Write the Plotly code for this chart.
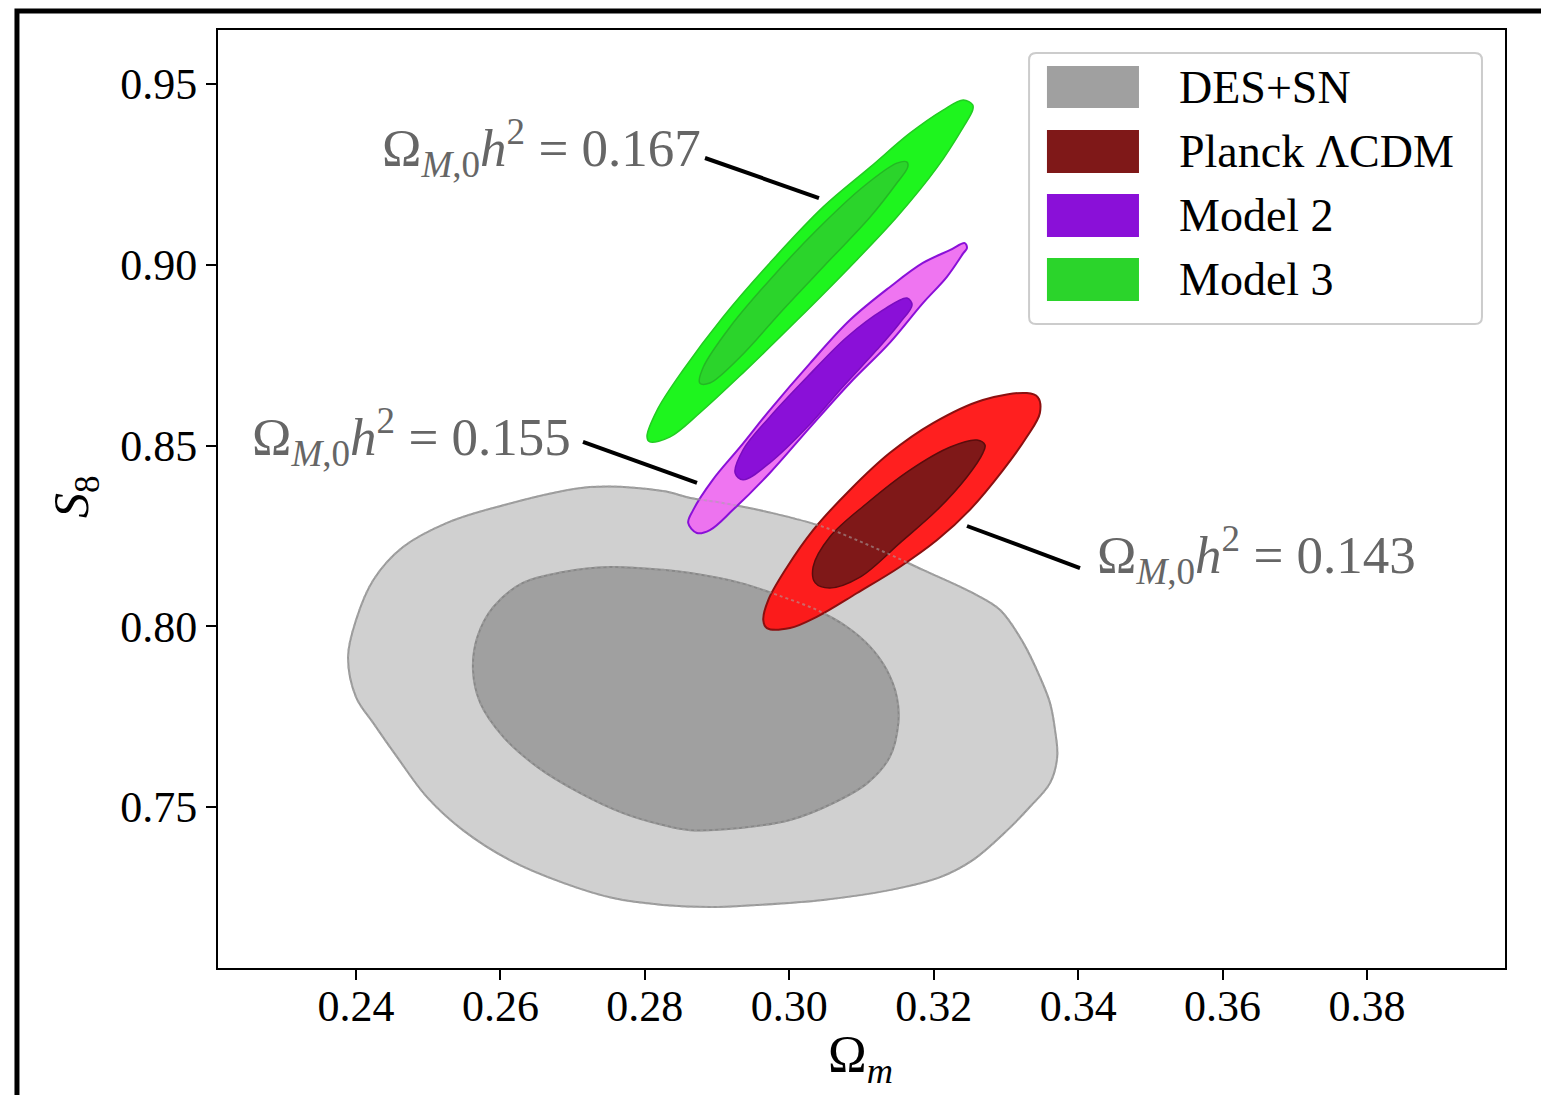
import plotly.graph_objects as go

# ---------------------------------------------------------------
# Confidence contours in the (Omega_m, S_8) plane.
# Each contour is a closed boundary: x = Omega_m, y = S_8.
# ---------------------------------------------------------------

# DES+SN, 2-sigma
des_2s_om = [0.2724, 0.2825, 0.2863, 0.2908, 0.2977, 0.3047, 0.3116, 0.3185, 0.3254, 0.3292,
             0.3324, 0.3347, 0.3361, 0.3368, 0.3371, 0.3361, 0.3333, 0.3302, 0.3254, 0.3209,
             0.3139, 0.3047, 0.2955, 0.2890, 0.2825, 0.2756, 0.2687, 0.2613, 0.2548, 0.2498,
             0.2457, 0.2424, 0.2400, 0.2389, 0.2400, 0.2424, 0.2465, 0.2526, 0.2595]
des_2s_s8 = [0.8385, 0.8374, 0.8355, 0.8341, 0.8313, 0.8275, 0.8219, 0.8156, 0.8092, 0.8045,
             0.7954, 0.7860, 0.7788, 0.7713, 0.7638, 0.7566, 0.7500, 0.7436, 0.7353, 0.7306,
             0.7270, 0.7243, 0.7229, 0.7223, 0.7229, 0.7248, 0.7290, 0.7353, 0.7436, 0.7528,
             0.7638, 0.7732, 0.7804, 0.7915, 0.8017, 0.8128, 0.8219, 0.8286, 0.8330]

# DES+SN, 1-sigma
des_1s_om = [0.2752, 0.2825, 0.2863, 0.2932, 0.2991, 0.3038, 0.3080, 0.3112, 0.3135, 0.3149,
             0.3151, 0.3139, 0.3108, 0.3061, 0.3001, 0.2932, 0.2863, 0.2825, 0.2770, 0.2710,
             0.2651, 0.2604, 0.2572, 0.2562, 0.2568, 0.2590, 0.2631, 0.2687]
des_1s_s8 = [0.8164, 0.8156, 0.8147, 0.8120, 0.8081, 0.8045, 0.7998, 0.7943, 0.7879, 0.7804,
             0.7732, 0.7638, 0.7566, 0.7511, 0.7464, 0.7442, 0.7436, 0.7450, 0.7483, 0.7539,
             0.7611, 0.7694, 0.7788, 0.7879, 0.7970, 0.8053, 0.8120, 0.8150]

# Planck LCDM, 2-sigma
planck_2s_om = [0.3329, 0.3344, 0.3347, 0.3329, 0.3296, 0.3250, 0.3205, 0.3153, 0.3094, 0.3038,
                0.3001, 0.2969, 0.2964, 0.2971, 0.2997, 0.3033, 0.3084, 0.3139, 0.3199, 0.3268]
planck_2s_s8 = [0.8645, 0.8634, 0.8590, 0.8524, 0.8432, 0.8322, 0.8239, 0.8164, 0.8092, 0.8026,
                0.7995, 0.7995, 0.8017, 0.8073, 0.8164, 0.8266, 0.8377, 0.8479, 0.8562, 0.8626]

# Planck LCDM, 1-sigma
planck_1s_om = [0.3260, 0.3271, 0.3268, 0.3246, 0.3205, 0.3153, 0.3098, 0.3056, 0.3036, 0.3033,
                0.3056, 0.3108, 0.3167, 0.3223]
planck_1s_s8 = [0.8515, 0.8501, 0.8479, 0.8413, 0.8322, 0.8230, 0.8136, 0.8106, 0.8120, 0.8164,
                0.8247, 0.8341, 0.8432, 0.8496]

# Model 2, 2-sigma
model2_2s_om = [0.3243, 0.3246, 0.3241, 0.3218, 0.3185, 0.3139, 0.3084, 0.3029, 0.2973, 0.2922,
                0.2890, 0.2872, 0.2860, 0.2867, 0.2894, 0.2932, 0.2973, 0.3029, 0.3084, 0.3139,
                0.3185, 0.3223]
model2_2s_s8 = [0.9060, 0.9046, 0.9032, 0.8966, 0.8894, 0.8784, 0.8673, 0.8551, 0.8424, 0.8322,
                0.8266, 0.8258, 0.8286, 0.8322, 0.8405, 0.8496, 0.8598, 0.8728, 0.8847, 0.8938,
                0.9005, 0.9041]

# Model 2, 1-sigma
model2_1s_om = [0.3163, 0.3170, 0.3153, 0.3121, 0.3074, 0.3025, 0.2973, 0.2936, 0.2925, 0.2936,
                0.2973, 0.3025, 0.3080, 0.3130]
model2_1s_s8 = [0.8908, 0.8889, 0.8839, 0.8764, 0.8662, 0.8551, 0.8452, 0.8405, 0.8424, 0.8488,
                0.8579, 0.8690, 0.8800, 0.8875]

# Model 3, 2-sigma
model3_2s_om = [0.3241, 0.3254, 0.3254, 0.3241, 0.3205, 0.3149, 0.3084, 0.3011, 0.2936, 0.2876,
                0.2835, 0.2807, 0.2803, 0.2817, 0.2853, 0.2908, 0.2973, 0.3047, 0.3112, 0.3167,
                0.3213]
model3_2s_s8 = [0.9456, 0.9442, 0.9428, 0.9381, 0.9270, 0.9132, 0.8994, 0.8847, 0.8701, 0.8590,
                0.8524, 0.8510, 0.8524, 0.8598, 0.8709, 0.8855, 0.9005, 0.9160, 0.9270, 0.9364,
                0.9428]

# Model 3, 1-sigma
model3_1s_om = [0.3149, 0.3163, 0.3164, 0.3149, 0.3112, 0.3056, 0.2991, 0.2932, 0.2890, 0.2876,
                0.2881, 0.2918, 0.2973, 0.3038, 0.3102]
model3_1s_s8 = [0.9281, 0.9284, 0.9270, 0.9226, 0.9132, 0.9013, 0.8875, 0.8745, 0.8673, 0.8673,
                0.8717, 0.8828, 0.8958, 0.9096, 0.9215]

# Legend entries and tick labels
legend_labels = ["DES+SN", "Planck ΛCDM", "Model 2", "Model 3"]
legend_colors = ["#a0a0a0", "#7f1818", "#8a10d8", "#2bd42b"]
om_ticks = [0.24, 0.26, 0.28, 0.30, 0.32, 0.34, 0.36, 0.38]
s8_ticks = [0.75, 0.80, 0.85, 0.90, 0.95]
om_range = [0.22089, 0.39911]
s8_range = [0.70546, 0.96494]

# Annotated physical matter densities
omh2_labels = ["0.167", "0.155", "0.143"]

SERIF = "Liberation Serif, Times New Roman, serif"

fig = go.Figure()


def contour(xs, ys, fill, edge, width=1.5):
    fig.add_trace(go.Scatter(
        x=xs + xs[:1], y=ys + ys[:1], mode="lines", fill="toself",
        fillcolor=fill, line=dict(color=edge, width=width, shape="spline", smoothing=1.0),
        hoverinfo="skip", showlegend=False))


def outline(xs, ys, color):
    fig.add_trace(go.Scatter(
        x=xs + xs[:1], y=ys + ys[:1], mode="lines",
        line=dict(color=color, width=2, shape="spline", smoothing=1.0, dash="dot"),
        hoverinfo="skip", showlegend=False))


contour(des_2s_om, des_2s_s8, "#d0d0d0", "#999999", 2)
contour(des_1s_om, des_1s_s8, "#a0a0a0", "#888888", 2)
contour(planck_2s_om, planck_2s_s8, "rgba(255,22,22,0.96)", "#8b1010", 2)
contour(planck_1s_om, planck_1s_s8, "#7f1818", "#5a0c0c", 1.5)
contour(model2_2s_om, model2_2s_s8, "rgba(238,108,240,0.94)", "#8a10d8", 2)
contour(model2_1s_om, model2_1s_s8, "#8a10d8", "#7a0cc0", 1.5)
contour(model3_2s_om, model3_2s_s8, "#1ef51e", "#22cc22", 1.5)
contour(model3_1s_om, model3_1s_s8, "#2bd42b", "#24b824", 1.5)

# DES+SN edges showing faintly through the overlapping fills
outline(des_2s_om, des_2s_s8, "rgba(170,170,170,0.55)")
outline(des_1s_om, des_1s_s8, "rgba(170,170,170,0.55)")

# Leader lines from the labels to the contours
leaders = [((0.28833, 0.92953), (0.30411, 0.91846)),
           ((0.27143, 0.85097), (0.28722, 0.83963)),
           ((0.32461, 0.82773), (0.34026, 0.81611))]
for (x0, y0), (x1, y1) in leaders:
    fig.add_shape(type="line", xref="x", yref="y", x0=x0, y0=y0, x1=x1, y1=y1,
                  line=dict(color="black", width=4))

label_pos = [(0.3768, 0.8742, "right"), (0.2758, 0.5661, "right"), (0.6814, 0.4403, "left")]
for (px, py, anc), val in zip(label_pos, omh2_labels):
    fig.add_annotation(
        xref="paper", yref="paper", x=px, y=py, xanchor=anc, yanchor="middle", showarrow=False,
        text=f"Ω<sub><i>M</i>,0</sub><i>h</i><sup>2</sup> = {val}",
        font=dict(family=SERIF, size=53, color="#666666"))

# Legend box with rounded corners
lx0, lx1, ly0, ly1 = 0.6302, 0.9821, 0.6866, 0.9755
rx, ry = 7 / 1287, 7 / 938
legend_path = (f"M {lx0 + rx},{ly0} L {lx1 - rx},{ly0} Q {lx1},{ly0} {lx1},{ly0 + ry} "
               f"L {lx1},{ly1 - ry} Q {lx1},{ly1} {lx1 - rx},{ly1} "
               f"L {lx0 + rx},{ly1} Q {lx0},{ly1} {lx0},{ly1 - ry} "
               f"L {lx0},{ly0 + ry} Q {lx0},{ly0} {lx0 + rx},{ly0} Z")
fig.add_shape(type="path", xref="paper", yref="paper", path=legend_path,
              line=dict(color="#cccccc", width=2), fillcolor="rgba(255,255,255,0.8)", layer="above")
patch_rows = [(0.9168, 0.9616), (0.8475, 0.8934), (0.7793, 0.8252), (0.7111, 0.7569)]
for (y0, y1), lab, col in zip(patch_rows, legend_labels, legend_colors):
    fig.add_shape(type="rect", xref="paper", yref="paper", x0=0.6441, x1=0.7156, y0=y0, y1=y1,
                  line=dict(width=0), fillcolor=col, layer="above")
    fig.add_annotation(xref="paper", yref="paper", x=0.7451, y=(y0 + y1) / 2, xanchor="left",
                       yanchor="middle", showarrow=False, text=lab,
                       font=dict(family=SERIF, size=46, color="black"))

# Axis titles
fig.add_annotation(xref="paper", yref="paper", x=(75 - 218) / 1287, y=(968 - 497) / 938,
                   xanchor="center", yanchor="middle", showarrow=False, textangle=-90,
                   text="<i>S</i><sub>8</sub>", font=dict(family=SERIF, size=50, color="black"))
fig.add_annotation(xref="paper", yref="paper", x=(860 - 218) / 1287, y=(968 - 1058) / 938,
                   xanchor="center", yanchor="middle", showarrow=False,
                   text="Ω<sub><i>m</i></sub>", font=dict(family=SERIF, size=52, color="black"))

# Outer figure frame
fig.add_shape(type="rect", xref="paper", yref="paper", x0=-0.1562, x1=1.05, y0=-0.2, y1=1.0203,
              line=dict(color="black", width=5))

axis_common = dict(showgrid=False, zeroline=False, showline=True, mirror=True, linecolor="black",
                   linewidth=2, ticks="outside", ticklen=10, tickwidth=1.5, tickcolor="black",
                   tickfont=dict(family=SERIF, size=44, color="black"), tickformat=".2f")

fig.update_layout(
    width=1541, height=1095,
    margin=dict(l=218, r=36, t=30, b=127),
    paper_bgcolor="white", plot_bgcolor="white",
    xaxis=dict(range=om_range, tickvals=om_ticks, ticklabelstandoff=-12, **axis_common),
    yaxis=dict(range=s8_range, tickvals=s8_ticks, **axis_common),
    showlegend=False,
)

fig.write_html("out.html")
